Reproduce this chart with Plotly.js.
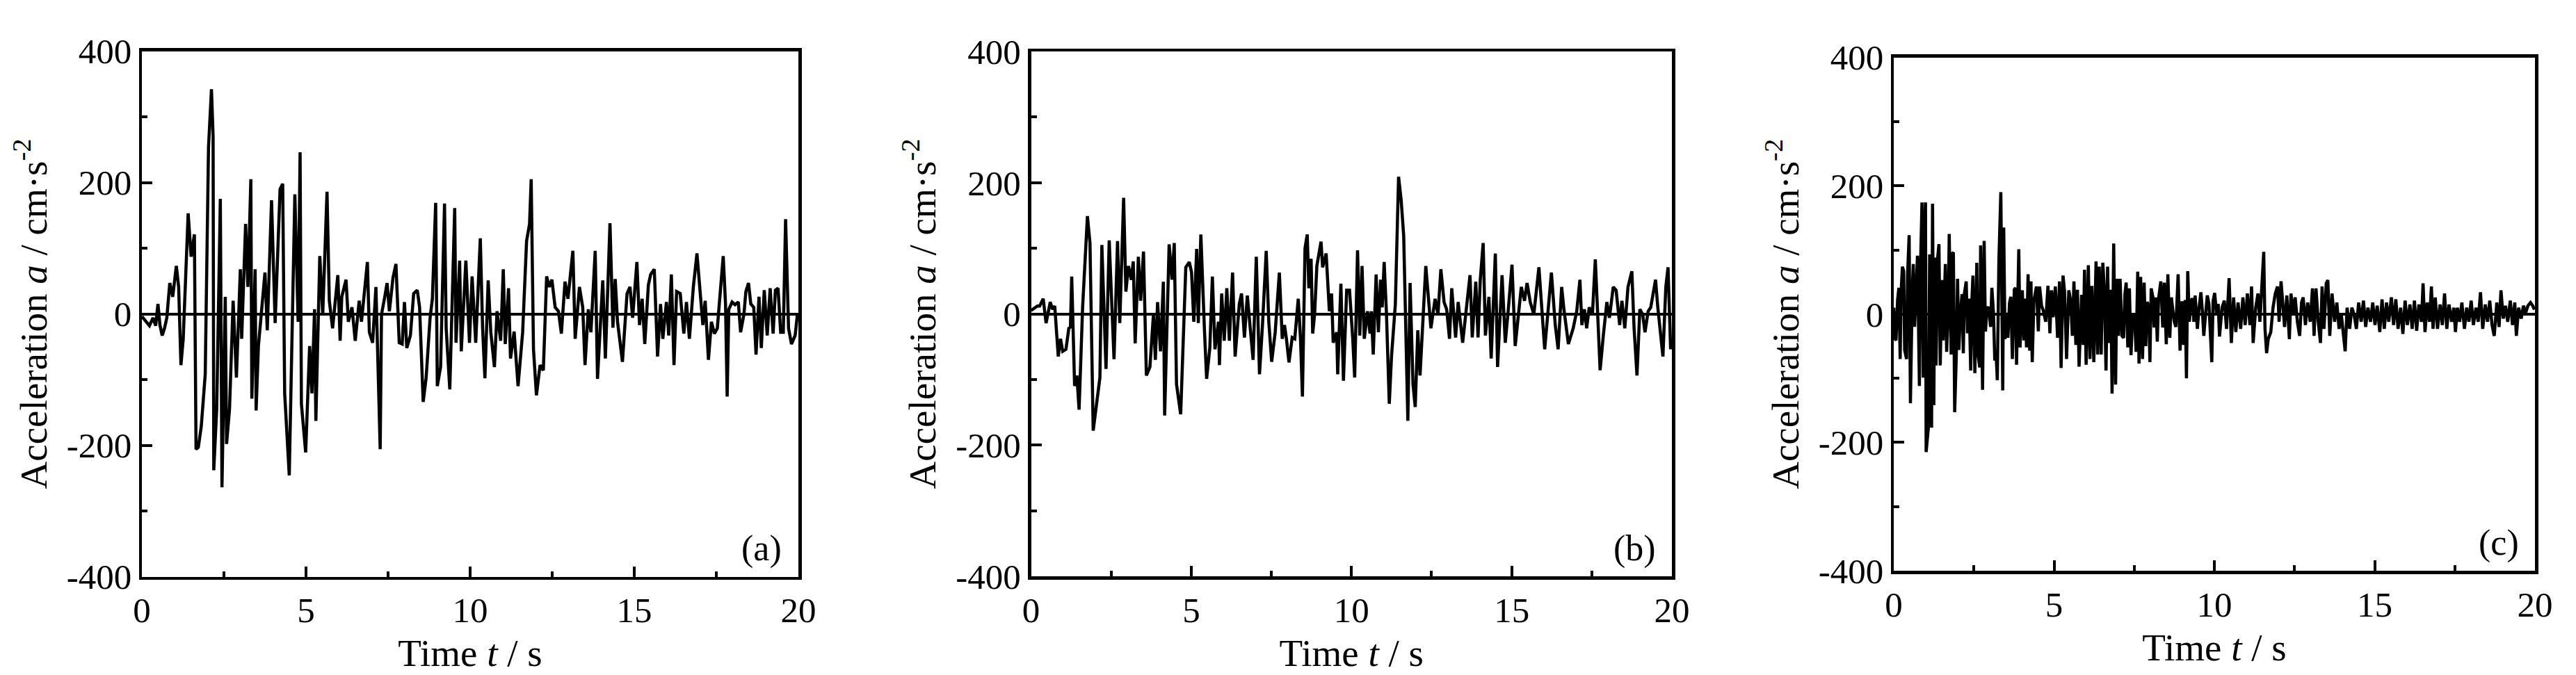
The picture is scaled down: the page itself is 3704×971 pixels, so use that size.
<!DOCTYPE html>
<html>
<head>
<meta charset="utf-8">
<script src="https://cdn.plot.ly/plotly-3.0.1.min.js"></script>
<style>
  html, body { margin: 0; padding: 0; background: #ffffff; }
  #chart { width: 3704px; height: 971px; }
</style>
</head>
<body>
<div id="chart"></div>
<script>
// ---------------- data ----------------
const timeA = [0.00,0.13,0.23,0.34,0.42,0.49,0.55,0.62,0.69,0.76,0.85,0.94,1.05,1.12,1.19,1.26,1.33,1.41,1.50,1.60,
  1.65,1.72,1.81,1.93,2.03,2.12,2.17,2.19,2.28,2.39,2.44,2.54,2.58,2.67,2.78,2.88,3.00,3.04,3.16,3.23,
  3.32,3.35,3.45,3.48,3.55,3.62,3.75,3.82,3.95,4.06,4.21,4.29,4.35,4.49,4.66,4.76,4.82,4.86,4.99,5.11,
  5.18,5.26,5.30,5.42,5.51,5.64,5.71,5.81,5.97,6.04,6.09,6.22,6.29,6.40,6.50,6.62,6.69,6.87,6.93,7.03,
  7.13,7.26,7.30,7.40,7.47,7.54,7.65,7.74,7.84,7.93,8.00,8.07,8.18,8.28,8.39,8.46,8.57,8.66,8.78,8.85,
  8.95,9.00,9.10,9.22,9.27,9.38,9.53,9.57,9.68,9.73,9.87,9.98,10.06,10.17,10.31,10.38,10.45,10.55,10.63,10.74,
  10.82,10.93,11.01,11.07,11.17,11.23,11.34,11.46,11.60,11.72,11.81,11.86,11.93,12.02,12.13,12.23,12.33,12.41,12.49,12.59,
  12.69,12.78,12.89,12.98,13.13,13.20,13.33,13.43,13.50,13.60,13.68,13.81,13.88,14.04,14.12,14.26,14.35,14.42,14.49,14.64,
  14.78,14.87,14.95,15.08,15.16,15.24,15.32,15.43,15.50,15.61,15.71,15.80,15.87,15.98,16.05,16.13,16.21,16.29,16.40,16.51,
  16.59,16.68,16.80,16.91,16.99,17.09,17.16,17.26,17.35,17.44,17.53,17.62,17.71,17.78,17.83,17.88,17.98,18.07,18.17,18.24,
  18.34,18.40,18.48,18.55,18.64,18.71,18.80,18.87,18.96,19.05,19.14,19.23,19.30,19.38,19.46,19.54,19.61,19.70,19.79,19.90,
  19.97];
const accA = [-4,-12,-18,-6,-18,15,-17,-33,-22,-6,47,26,73,41,-78,-38,41,153,87,121,
  -206,-203,-171,-92,254,342,270,-238,-145,175,-264,26,-198,-145,20,-97,68,-38,137,41,
  205,-129,68,-147,-49,-12,63,-25,173,-14,190,198,-121,-246,182,-12,246,-137,-211,-49,
  -121,7,-163,88,-1,186,20,-22,59,-41,26,52,-12,10,-41,20,-12,79,-28,-44,
  41,-206,-1,26,47,4,55,76,-44,-46,18,-52,-33,31,36,10,-134,-97,-6,23,
  169,-110,-81,168,-22,-115,161,-44,81,-57,81,-44,57,-44,115,-22,-98,51,-28,-81,
  4,-41,68,-46,39,-68,-27,-110,-28,111,137,205,-54,-124,-78,-86,57,41,52,10,
  4,-30,49,23,96,-38,41,10,-78,7,-28,96,-99,51,-68,138,-21,53,-12,-73,
  31,41,-6,79,-17,23,-46,44,60,68,-65,15,-38,18,-33,60,-78,34,31,-30,
  18,-38,41,92,41,-17,20,-70,-12,-30,-22,34,88,15,-126,7,18,14,18,-28,
  -1,34,47,15,10,-62,26,-52,36,-33,39,-30,36,39,-28,-28,144,-22,-46,-33,
  -1];

const timeB = [0.00,0.05,0.20,0.27,0.38,0.47,0.60,0.67,0.74,0.85,0.92,0.99,1.09,1.18,1.23,1.27,1.36,1.43,1.50,1.61,
  1.76,1.84,1.94,2.15,2.21,2.34,2.44,2.59,2.70,2.77,2.83,2.89,2.96,3.04,3.13,3.19,3.25,3.35,3.42,3.51,
  3.60,3.71,3.82,3.88,3.95,4.04,4.13,4.17,4.31,4.40,4.47,4.54,4.67,4.78,4.83,4.94,5.01,5.08,5.17,5.22,
  5.30,5.41,5.48,5.58,5.66,5.74,5.85,5.88,5.95,6.03,6.11,6.19,6.29,6.37,6.50,6.57,6.66,6.75,6.82,6.93,
  7.03,7.13,7.22,7.34,7.42,7.51,7.62,7.75,7.84,7.91,7.97,8.05,8.15,8.23,8.34,8.41,8.47,8.55,8.62,8.67,
  8.74,8.79,8.85,8.92,9.05,9.10,9.21,9.31,9.38,9.43,9.54,9.57,9.67,9.75,9.85,9.94,10.04,10.10,10.19,10.26,
  10.33,10.40,10.50,10.58,10.62,10.68,10.77,10.84,10.91,10.96,11.02,11.09,11.18,11.25,11.37,11.47,11.55,11.63,11.76,11.83,
  11.92,11.99,12.07,12.14,12.32,12.48,12.61,12.70,12.79,12.89,12.97,13.06,13.13,13.25,13.33,13.47,13.59,13.70,13.77,13.88,
  13.95,14.02,14.11,14.18,14.29,14.36,14.49,14.56,14.70,14.80,14.89,15.01,15.11,15.22,15.30,15.40,15.48,15.58,15.69,15.85,
  15.94,16.03,16.12,16.24,16.36,16.45,16.56,16.63,16.77,16.92,17.03,17.13,17.19,17.27,17.34,17.42,17.52,17.61,17.68,17.76,
  17.86,17.97,18.05,18.17,18.26,18.37,18.44,18.53,18.63,18.75,18.82,18.91,19.00,19.09,19.16,19.26,19.34,19.49,19.56,19.63,
  19.72,19.81,19.88,19.96];
const accB = [5,7,12,12,23,-14,18,7,12,-65,-38,-57,-54,-22,-20,57,-110,-94,-146,10,
  149,108,-178,-97,105,-84,112,-69,111,-14,105,177,34,73,52,80,-45,87,20,95,
  -94,-81,-1,-70,18,-57,49,-155,106,52,108,-107,-153,-1,71,79,63,-12,99,-14,
  121,-22,-99,-52,57,-54,-12,-78,31,-41,39,-41,63,-65,15,31,-36,28,-12,-70,
  87,-92,-20,96,-12,-73,-28,63,-38,-17,-38,-74,-36,-38,23,-38,-126,100,121,39,
  84,-30,-1,73,110,71,92,4,31,-44,-28,-92,46,-102,36,36,-38,-97,97,-33,
  73,-38,4,-30,4,-62,60,-28,52,10,79,4,-137,-65,15,209,174,119,-163,47,
  -107,-142,-25,-94,73,-22,23,-1,68,18,7,-38,39,-36,18,-44,10,59,-36,49,
  -36,52,108,-33,26,-68,92,-81,59,-44,4,75,-49,4,41,20,47,18,-1,71,
  7,-54,-4,63,-17,-54,41,7,-46,-22,4,52,-17,7,-22,10,-1,83,4,-86,
  -33,18,-6,41,36,-17,20,-22,41,65,-22,-94,7,-1,-28,4,10,52,10,-22,
  -65,41,71,-54];

const timeC = [0.00,0.04,0.07,0.12,0.16,0.20,0.23,0.27,0.31,0.34,0.40,0.43,0.48,0.52,0.58,0.61,0.65,0.69,0.74,0.80,
  0.83,0.88,0.92,0.95,0.99,1.01,1.08,1.12,1.18,1.21,1.25,1.28,1.32,1.37,1.41,1.45,1.50,1.54,1.58,1.61,
  1.65,1.70,1.73,1.79,1.81,1.86,1.90,1.95,1.99,2.03,2.08,2.13,2.17,2.20,2.26,2.30,2.35,2.40,2.44,2.47,
  2.53,2.59,2.62,2.68,2.71,2.77,2.82,2.86,2.91,2.96,3.02,3.06,3.11,3.15,3.20,3.23,3.28,3.34,3.40,3.43,
  3.47,3.52,3.56,3.61,3.65,3.70,3.76,3.80,3.83,3.87,3.90,3.94,3.98,4.01,4.06,4.11,4.14,4.19,4.24,4.28,
  4.32,4.37,4.45,4.51,4.55,4.61,4.66,4.74,4.81,4.87,4.92,4.97,5.04,5.11,5.17,5.22,5.28,5.33,5.39,5.46,
  5.52,5.57,5.62,5.68,5.73,5.78,5.86,5.91,5.95,6.00,6.07,6.12,6.18,6.24,6.31,6.36,6.41,6.47,6.52,6.57,
  6.62,6.67,6.72,6.77,6.81,6.86,6.92,6.96,7.01,7.06,7.12,7.17,7.21,7.25,7.30,7.35,7.40,7.45,7.51,7.56,
  7.61,7.65,7.70,7.76,7.81,7.86,7.90,7.95,7.99,8.03,8.08,8.12,8.17,8.22,8.26,8.33,8.39,8.44,8.50,8.55,
  8.61,8.66,8.70,8.75,8.80,8.87,8.93,8.99,9.04,9.09,9.13,9.17,9.22,9.28,9.33,9.36,9.40,9.47,9.52,9.58,
  9.63,9.67,9.73,9.78,9.83,9.87,9.92,9.96,10.01,10.07,10.12,10.16,10.24,10.31,10.38,10.46,10.53,10.60,10.67,10.74,
  10.82,10.89,10.96,11.03,11.11,11.16,11.21,11.29,11.36,11.42,11.47,11.54,11.58,11.63,11.68,11.76,11.83,11.90,11.97,12.02,
  12.08,12.14,12.19,12.26,12.34,12.39,12.46,12.52,12.59,12.66,12.72,12.77,12.84,12.91,12.99,13.06,13.11,13.17,13.24,13.31,
  13.36,13.42,13.49,13.54,13.60,13.67,13.75,13.82,13.89,13.96,14.03,14.08,14.14,14.22,14.29,14.36,14.43,14.50,14.58,14.65,
  14.72,14.79,14.87,14.94,15.01,15.08,15.16,15.23,15.30,15.37,15.44,15.52,15.59,15.66,15.73,15.81,15.88,15.95,16.02,16.10,
  16.17,16.24,16.31,16.38,16.46,16.51,16.57,16.64,16.71,16.77,16.82,16.89,16.96,17.04,17.11,17.18,17.25,17.32,17.40,17.47,
  17.52,17.58,17.65,17.72,17.80,17.87,17.94,18.01,18.08,18.16,18.23,18.30,18.37,18.45,18.52,18.59,18.66,18.73,18.81,18.88,
  18.94,19.01,19.08,19.15,19.23,19.30,19.37,19.42,19.49,19.57,19.64,19.71,19.78,19.86,19.93,19.98];
const accC = [10,-38,-41,22,41,-70,35,74,67,-56,-70,60,123,-139,41,78,-20,24,91,-112,
  63,174,-99,121,174,-215,-177,93,-177,172,-142,88,-80,88,109,-80,53,-41,53,78,
  -59,6,125,-63,94,96,-153,-66,55,-56,2,31,-61,31,51,-30,24,-88,24,60,
  -92,80,-59,-83,107,-118,114,-27,9,11,-20,41,2,-70,-70,-103,85,190,-119,135,
  -39,2,-37,17,27,-70,38,41,-79,2,101,-52,20,37,-41,24,-52,62,-57,51,
  -75,20,43,-27,43,13,6,-12,44,-30,37,-5,43,-37,51,-84,60,34,-70,37,
  20,-34,51,-48,38,-82,30,-48,69,-79,76,-70,44,-75,82,-63,74,-63,80,38,
  -88,74,-45,38,-124,110,-110,55,-34,55,-34,-37,31,49,-52,40,-64,-1,-5,-59,
  66,-77,58,-70,49,-50,19,13,-75,40,27,-21,26,-43,24,51,-21,49,-47,62,
  -37,26,8,-12,-20,62,-57,20,-48,22,-100,67,-12,22,24,-12,29,-23,8,34,
  2,-34,2,29,16,-16,-75,20,33,-1,16,-35,10,21,-23,56,-45,26,-28,18,
  -23,26,-17,32,-17,43,-45,10,32,-12,37,97,-23,-61,-39,-28,10,32,43,-12,
  51,10,-20,29,-39,32,-1,26,-12,-34,18,26,-17,18,-12,40,-34,40,-12,-45,
  43,-23,48,53,-34,32,-12,18,-23,-1,-39,-58,10,-23,10,-1,-23,18,-12,21,
  -20,10,-12,18,-17,13,-28,23,-23,18,-12,26,-17,23,-23,10,-31,21,-17,15,
  -23,21,-26,15,-12,48,-28,18,-12,43,-23,26,-23,15,-17,32,-23,15,-12,10,
  -28,10,-12,18,-23,10,-12,21,-17,10,-12,34,-23,15,-12,21,-17,-34,18,-20,
  37,-7,13,-12,21,-17,18,-34,10,-7,13,2,13,18,13,7];

const xTickVals = [0, 5, 10, 15, 20];
const xTickText = ['0', '5', '10', '15', '20'];
const xMinorVals = [2.5, 7.5, 12.5, 17.5];
const yTickVals = [-400, -200, 0, 200, 400];
const yTickText = ['-400', '-200', '0', '200', '400'];
const yMinorVals = [-300, -100, 100, 300];
const panelLabels = ['(a)', '(b)', '(c)'];
const xTitle = 'Time <i>t</i> / s';
const yTitle = 'Acceleration <i>a</i> / cm·s<sup>-2</sup>';

// ---------------- layout ----------------
const W = 3704, H = 971;
const FONT = 'Liberation Serif, Times New Roman, serif';
const boxes = [
  {l: 204, r: 1148, t: 73.5, b: 829.5},
  {l: 1482.5, r: 2404, t: 74, b: 829},
  {l: 2723, r: 3645, t: 82.6, b: 821}
];

function xAxis(box, anchor) {
  return {
    domain: [box.l / W, box.r / W], anchor: anchor, range: [0, 20],
    showline: true, linewidth: 4.5, linecolor: '#000', mirror: true,
    showgrid: false, zeroline: false,
    ticks: 'inside', ticklen: 15, tickwidth: 4, tickcolor: '#000',
    tickmode: 'array', tickvals: xTickVals, ticktext: xTickText,
    minor: {tickmode: 'array', tickvals: xMinorVals, ticks: 'inside', ticklen: 8, tickwidth: 4, tickcolor: '#000', showgrid: false},
    tickfont: {family: FONT, size: 51, color: '#000'},
    title: {text: xTitle, font: {family: FONT, size: 55, color: '#000'}, standoff: 16},
    automargin: false, fixedrange: true
  };
}
function yAxis(box, anchor) {
  return {
    domain: [1 - box.b / H, 1 - box.t / H], anchor: anchor, range: [-400, 400],
    showline: true, linewidth: 4.5, linecolor: '#000', mirror: true,
    showgrid: false, zeroline: true, zerolinecolor: '#000', zerolinewidth: 4,
    ticks: 'inside', ticklen: 15, tickwidth: 4, tickcolor: '#000',
    tickmode: 'array', tickvals: yTickVals, ticktext: yTickText,
    minor: {tickmode: 'array', tickvals: yMinorVals, ticks: 'inside', ticklen: 8, tickwidth: 4, tickcolor: '#000', showgrid: false},
    tickfont: {family: FONT, size: 51, color: '#000'},
    title: {text: yTitle, font: {family: FONT, size: 55, color: '#000'}, standoff: 12},
    automargin: false, fixedrange: true
  };
}

const series = [[timeA, accA], [timeB, accB], [timeC, accC]];
const traces = series.map((s, i) => ({
  type: 'scatter', mode: 'lines', x: s[0], y: s[1],
  xaxis: i === 0 ? 'x' : 'x' + (i + 1), yaxis: i === 0 ? 'y' : 'y' + (i + 1),
  line: {color: '#000', width: 4.5}, showlegend: false, hoverinfo: 'skip'
}));

const layout = {
  width: W, height: H,
  margin: {l: 0, r: 0, t: 0, b: 0, pad: 0},
  paper_bgcolor: '#fff', plot_bgcolor: '#fff',
  font: {family: FONT, color: '#000'},
  showlegend: false,
  xaxis: xAxis(boxes[0], 'y'), yaxis: yAxis(boxes[0], 'x'),
  xaxis2: xAxis(boxes[1], 'y2'), yaxis2: yAxis(boxes[1], 'x2'),
  xaxis3: xAxis(boxes[2], 'y3'), yaxis3: yAxis(boxes[2], 'x3'),
  annotations: panelLabels.map((lab, i) => ({
    text: lab, showarrow: false,
    xref: (i === 0 ? 'x' : 'x' + (i + 1)) + ' domain',
    yref: (i === 0 ? 'y' : 'y' + (i + 1)) + ' domain',
    x: 0.977, y: 0.012, xanchor: 'right', yanchor: 'bottom',
    font: {family: FONT, size: 52, color: '#000'}
  }))
};

Plotly.newPlot('chart', traces, layout, {staticPlot: true, displayModeBar: false});
</script>
</body>
</html>
